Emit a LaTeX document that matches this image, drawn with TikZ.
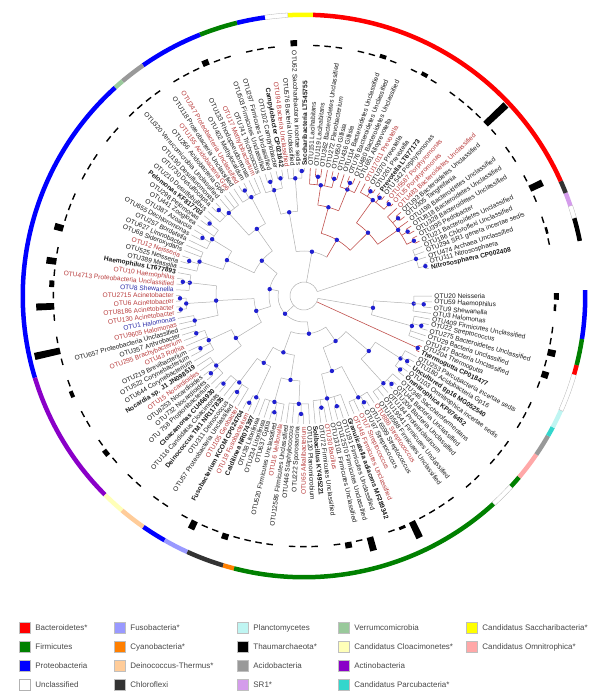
\documentclass[tikz,border=0pt]{standalone}
\usepackage{fontspec}
\setmainfont{Liberation Sans}
\usetikzlibrary{positioning}

\definecolor{cBac}{HTML}{FF0000}
\definecolor{cFir}{HTML}{008000}
\definecolor{cPro}{HTML}{0000FF}
\definecolor{cFus}{HTML}{9999FF}
\definecolor{cCya}{HTML}{FF7F00}
\definecolor{cDei}{HTML}{FFCC99}
\definecolor{cChl}{HTML}{333333}
\definecolor{cPla}{HTML}{BFF5F2}
\definecolor{cTha}{HTML}{000000}
\definecolor{cAci}{HTML}{999999}
\definecolor{cSR}{HTML}{D49CEB}
\definecolor{cVer}{HTML}{99C99B}
\definecolor{cClo}{HTML}{FFFFB8}
\definecolor{cAct}{HTML}{8A00C8}
\definecolor{cPar}{HTML}{33D6CC}
\definecolor{cSac}{HTML}{FFFF00}
\definecolor{cOmn}{HTML}{FFA8A8}
\definecolor{branchgray}{HTML}{B0B0B0}
\definecolor{branchred}{HTML}{C0504D}
\definecolor{dotblue}{HTML}{2020D0}
\definecolor{labelred}{HTML}{B83B3B}
\definecolor{labelblue}{HTML}{2B2BA8}
\definecolor{labelblack}{HTML}{1A1A1A}

\tikzset{
  gb/.style={draw=branchgray, line width=0.5pt},
  rb/.style={draw=branchred, line width=0.6pt},
  dot/.style={fill=dotblue},
  leaf/.style={font=\fontsize{6.6}{7}\selectfont, inner sep=0.3pt, text=labelblack},
  lk/.style={},
  lr/.style={text=labelred},
  lb/.style={text=labelblue},
  lx/.style={font=\fontsize{6.6}{7}\selectfont\bfseries},
  bar/.style={fill=black},
  sBac/.style={fill=cBac}, sFir/.style={fill=cFir}, sPro/.style={fill=cPro},
  sUnc/.style={fill=white, draw=gray!60, line width=0.3pt},
  sFus/.style={fill=cFus}, sCya/.style={fill=cCya}, sDei/.style={fill=cDei},
  sChl/.style={fill=cChl}, sPla/.style={fill=cPla}, sTha/.style={fill=cTha},
  sAci/.style={fill=cAci}, sSR/.style={fill=cSR}, sVer/.style={fill=cVer},
  sClo/.style={fill=cClo}, sAct/.style={fill=cAct}, sPar/.style={fill=cPar},
  sSac/.style={fill=cSac}, sOmn/.style={fill=cOmn},
  legbox/.style={draw=gray!50, minimum size=11pt, inner sep=0pt, line width=0.4pt},
  legtext/.style={font=\fontsize{8}{9}\selectfont, inner sep=1pt, text=labelblack!80}
}

\begin{document}
\begin{tikzpicture}[x=1pt, y=1pt, declare function={lf(\k)=-0.1-2.573*\k;}]
    \useasboundingbox (-304,-400) rectangle (296,296);
    % Outer ring (phyla)
    \foreach \s/\e/\st in {-8.8/1.2/sPro, 11.3/16.1/sTha, 16.1/18.7/sUnc, 18.7/21.5/sSR,
        21.5/24.1/sChl, 24.1/88.2/sBac, 88.2/93.3/sSac, 93.3/98/sUnc, 98/103.8/sPro,
        103.8/111.7/sFir, 111.7/124.9/sPro, 124.9/130.2/sAci, 130.2/132.2/sVer,
        132.2/196.9/sPro, 196.9/225/sAct, 225/229.7/sClo, 229.7/235.2/sDei,
        235.2/240.3/sPro, 240.3/245.5/sFus, 245.5/253.3/sChl, 253.3/255.6/sCya,
        255.6/312.4/sFir, 312.4/317.4/sUnc, 317.4/319.9/sFir, 319.9/325.7/sOmn,
        325.7/330.2/sAci, 330.2/332.2/sPar, 332.2/336/sPla, 336/343.8/sUnc,
        343.8/345.8/sBac, 345.8/351.2/sFir}
    {
        \path[\st] (\s:279) arc[start angle=\s, end angle=\e, radius=279]
            -- (\e:283.5) arc[start angle=\e, end angle=\s, radius=283.5] -- cycle;
    }
    % Leaves: tip, label, abundance bar
    \foreach \txt/\sty/\rb/\h [count=\i from 0] in {
        {OTU20 Neisseria}/lk/110/5, {OTU59 Haemophilus}/lk/120/2.5, {OTU9 Shewanella}/lk/120/0,
        {OTU3 Halomonas}/lk/110/1.4, {OTU409 Firmicutes Unclassified}/lk/112/1.4,
        {OTU22 Streptococcus}/lk/121/8, {OTU275 Bacteroidetes Unclassified}/lk/121/1.4,
        {OTU29 Bacteria Unclassified}/lk/112/7, {OTU147 Bacteria Unclassified}/lk/112/1.4,
        {OTU204 Thermogutta}/lk/125/0, {Thermogutta CP018477}/lx/125/1.4,
        {OTU253 Parcubacteria incertae sedis}/lk/115/1.4, {OTU180 Acidobacteria Gp16}/lk/122/1.4,
        {Uncultured gp16 MG052540}/lx/122/0, {OTU103 Omnitrophica incertae sedis}/lk/121/1.4,
        {Omnitrophica KP076452}/lx/121/1.4, {OTU346 Saccharofermentans}/lk/118/1.4,
        {OTU44 Bacteria Unclassified}/lk/124/0, {OTU206 Bacteria Unclassified}/lk/124/1.4,
        {OTU184 Proteiniclasticum}/lk/118/1.4, {OTU19541 Firmicutes Unclassified}/lk/118/0,
        {OTU16588 Firmicutes Unclassified}/lk/118/1.4, {OTU886 Streptococcus}/lr/115/1.4,
        {OTU16599 Streptococcus}/lk/122/1.4, {OTU97 Streptococcus}/lk/122/1.4,
        {OTU7 Streptococcus}/lr/115/18, {OTU48 Firmicutes Unclassified}/lr/115/3,
        {Granulicatella adiacens MF289342}/lx/105/1.4, {OTU191 Firmicutes Unclassified}/lk/115/0,
        {OTU12570 Firmicutes Unclassified}/lk/115/14, {OTU13101 Firmicutes Unclassified}/lk/105/1.4,
        {OTU30 Bacillus}/lr/113/6, {OTU72 Firmicutes Unclassified}/lk/113/1.4,
        {Solibacillus KY495221}/lx/105/0, {OTU120 Planomicrobium}/lk/108/1.4,
        {OTU65 Alkalibacterium}/lr/118/1.4, {OTU222 Sporosarcina}/lk/118/1.4,
        {OTU446 Staphylococcus}/lk/108/0, {OTU12586 Firmicutes Unclassified}/lk/108/1.4,
        {OTU16 Veillonella}/lr/110/1.4, {OTU520 Firmicutes Unclassified}/lk/120/1.4,
        {OTU637 GpIIa}/lk/120/1.4, {OTU234 Litorilinea}/lk/110/6, {OTU38 Litorilinea}/lk/110/1.4,
        {Caldilinea NR074397}/lx/112/1.4, {OTU19 Fusobacterium}/lr/120/9,
        {Fusobacterium KCOM CP024704}/lx/120/1.4, {OTU105 Geobacter}/lr/108/0,
        {OTU57 Proteobacteria Unclassified}/lk/117/1.4, {OTU311 Deinococcus}/lk/117/1.4,
        {Deinococcus TM1 NR117835}/lx/108/0, {OTU116 Candidatus Cloacimonas}/lk/119/1.4,
        {Cloacamonas CU466930}/lx/119/1.4, {OTU 758 Propionibacterium}/lk/112/0,
        {OTU732 Nocardioides}/lk/121/1.4, {OTU8253 Nocardioides}/lk/121/5,
        {OTU15 Nocardioides}/lr/112/1.4, {Nocardia sp. J1 JN098519}/lx/112/0,
        {OTU644 Corynebacterium}/lk/105/1.4, {OTU522 Corynebacterium}/lk/116/1.4,
        {OTU219 Brevibacterium}/lk/116/0, {OTU43 Rothia}/lr/105/4,
        {OTU295 Brachybacterium}/lr/114/1.4, {OTU357 Arthrobacter}/lk/114/0,
        {OTU657 Proteobacteria Unclassified}/lk/112/1.4, {OTU9605 Halomonas}/lr/112/26,
        {OTU1 Halomonas}/lb/112/1.4, {OTU130 Acinetobacter}/lr/124/0,
        {OTU8186 Acinetobacter}/lr/124/1.4, {OTU6 Acinetobacter}/lr/124/18,
        {OTU2715 Acinetobacter}/lr/124/1.4, {OTU8 Shewanella}/lb/115/5,
        {OTU4713 Proteobacteria Unclassified}/lr/122/1.4, {OTU10 Haemophilus}/lr/122/10,
        {Haemophilus LT677893}/lx/115/1.4, {OTU389 Massilia}/lk/110/0,
        {OTU525 Neisseria}/lk/120/9, {OTU12 Neisseria}/lr/120/1.4,
        {OTU68 Sideroxydans}/lk/110/1.4, {OTU627 Limnobacter}/lk/110/1.4,
        {OTU257 Bordetella}/lk/108/0, {OTU655 Dechloromonas}/lk/117/1.4,
        {OTU387 Azoarcus}/lk/117/1.4, {OTU441 Zoogloea}/lk/108/1.4,
        {OTU298 Pelomonas}/lk/119/0, {Pelomonas KF817703}/lx/119/1.4,
        {OTU210 Desulfobulbus}/lk/112/1.4, {OTU730 Desulfocapsa}/lk/121/0,
        {OTU190 Desulfuromonas}/lk/121/1.4, {OTU320 Verrucomicrobia Unclassified}/lk/112/1.4,
        {OTU266 Acidobacteria Gp6}/lk/112/1.4, {OTU155 Acidobacteria Gp6}/lr/112/1.4,
        {OTU118 Proteobacteria Unclassified}/lk/112/0, {OTU347 Proteobacteria Unclassified}/lr/121/1.4,
        {OTU402 Methylocaldum}/lk/121/1.4, {OTU133 Rhodopseudomonas}/lk/112/1.4,
        {OTU17 Methylobacterium}/lr/112/6, {OTU741 Trichococcus}/lk/110/1.4,
        {OTU503 Firmicutes Unclassified}/lk/119/1.4, {OTU297 Firmicutes Unclassified}/lk/119/0,
        {OTU102 Campylobacter}/lk/120/1.4, {Campylobacter CP021642}/lx/120/1.4,
        {OTU94 Bacteria Unclassified}/lr/118/1.4, {OTU576 Bacteria Unclassified}/lk/118/0,
        {OTU62 Saccharibacteria incertae sedis}/lk/125/6, {Saccharibacteria LT545755}/lx/125/0,
        {OTU151 Lacihabitans}/lk/112/1.4, {OTU119 Lacihabitans}/lk/120/1.4,
        {OTU362 Bacteroidetes Unclassified}/lk/120/1.4, {OTU272 Flavobacterium}/lk/112/0,
        {OTU650 Gillisia}/lk/121/1.4, {OTU436 Gillisia}/lk/121/1.4,
        {OTU114 Bacteroidetes Unclassified}/lk/115/4, {OTU76 Bacteroidetes Unclassified}/lk/122/1.4,
        {OTU480 Bacteroidetes Unclassified}/lk/122/0, {OTU651 Alloprevotella}/lk/115/1.4,
        {OTU17011 Prevotella}/lr/118/4, {OTU370 Prevotella}/lk/124/1.4,
        {OTU261 Prevotella}/lk/124/0, {Prevotella LT677173}/lx/124/1.4,
        {OTU 542 Porphyromonas}/lk/124/1.4, {OTU5587 Porphyromonas}/lr/125/1.4,
        {OTU5 Porphyromonas}/lr/125/1.4, {OTU483 Bacteroidetes Unclassified}/lr/115/28,
        {OTU93 Bacteroidetes Unclassified}/lk/122/1.4, {OTU305 Tangfeifania}/lk/122/0,
        {OTU198 Bacteroidetes Unclassified}/lk/115/1.4, {OTU818 Bacteroidetes Unclassified}/lk/122/1.4,
        {OTU328 Bacteroidetes Unclassified}/lk/122/0, {OTU395 Pedobacter}/lk/123/1.4,
        {OTU21 Bacteroidetes Unclassified}/lk/123/14, {OTU186 Chloroflexi Unclassified}/lk/118/1.4,
        {OTU294 SR1 genera incertae sedis}/lk/118/0, {OTU474 Archaea Unclassified}/lk/118/1.4,
        {OTU111 Nitrososphaera}/lk/125/2.5, {Nitrososphaera CP002408}/lx/125/1.4}
    {
        \pgfmathsetmacro\ang{lf(\i)}
        \pgfmathsetmacro\an{mod(\ang+720,360)}
        \pgfmathtruncatemacro\lft{(\an>90)&&(\an<270)}
        \pgfmathtruncatemacro\isr{((\i>105)&&(\i<131))||(\i==9)||(\i==10)}
        \ifnum\isr=1 \def\tc{rb}\else\def\tc{gb}\fi
        \draw[\tc] (\ang:\rb) -- (\ang:128);
        \ifnum\lft=1
            \pgfmathsetmacro\rot{\an-180}
            \node[leaf, \sty, anchor=east, rotate=\rot] (l\i) at (\ang:130) {\txt};
        \else
            \node[leaf, \sty, anchor=west, rotate=\an] (l\i) at (\ang:130) {\txt};
        \fi
        \ifdim\h pt>0pt
            \pgfmathsetmacro\bo{250+\h}
            \fill[bar] ({\ang-0.75}:250) arc[start angle=\ang-0.75, end angle=\ang+0.75, radius=250]
                -- ({\ang+0.75}:\bo) arc[start angle=\ang+0.75, end angle=\ang-0.75, radius=\bo] -- cycle;
        \fi
    }
    % Clades: arc, stem, node dot
    \foreach \s/\e/\r/\p/\st in {
        % terminal groups
        0/3/110/70/gb, 4/8/112/70/gb, 9/10/125/14/rb, 11/14.5/115/85/gb, 16/21/118/85/gb,
        22/26/115/80/gb, 27/33/105/80/gb, 34/38/108/85/gb, 39/43/110/85/gb, 44/45.5/112/78/gb,
        47/51.5/108/78/gb, 53/57/112/80/gb, 58/62.5/105/80/gb, 64/66/112/88/gb, 67.5/69.5/118/88/gb,
        71/74/115/88/gb, 75/79/110/85/gb, 80/84.5/108/85/gb, 86/91/112/82/gb, 92/96/112/82/gb,
        97/100.5/110/85/gb, 102/104.5/118/85/gb, 106/110.5/112/92/rb, 112/115/115/92/rb,
        116/121.5/118/90/rb, 123/129.5/115/90/rb, 131/134.5/118/14/gb,
        % pairs
        1/2/120/110/gb, 5/6/121/112/gb, 12/13/122/115/gb, 14/15/121/115/gb, 17/18/124/118/gb,
        23/24/122/115/gb, 28/29/115/105/gb, 31/32/113/105/gb, 35/36/118/108/gb, 40/41/120/110/gb,
        45/46/120/112/gb, 48/49/117/108/gb, 51/52/119/108/gb, 54/55/121/112/gb, 59/60/116/105/gb,
        62/63/114/105/gb, 67/68/124/118/gb, 69/70/124/118/gb, 72/73/122/115/gb, 76/77/120/110/gb,
        81/82/117/108/gb, 84/85/119/108/gb, 87/88/121/112/gb, 93/94/121/112/gb, 98/99/119/110/gb,
        100/101/120/110/gb, 104/105/125/118/gb, 107/108/120/112/rb, 110/111/121/112/rb,
        113/114/122/115/rb, 117/118/124/118/rb, 119/120/124/118/rb, 121/122/125/118/rb,
        124/125/122/115/rb, 127/128/122/115/rb, 129/130/123/115/rb, 134/135/125/118/gb,
        % deeper clades
        1.5/6/70/14/gb, 12.75/18.5/85/55/gb, 24/30/80/55/gb, 36/41/85/60/gb, 44.75/49.25/78/60/gb,
        55/60.25/80/50/gb, 65/72.5/88/50/gb, 77/82.25/85/55/gb, 88.5/94/82/55/gb,
        98.75/103.25/85/45/gb, 108.25/113.5/92/65/rb, 118.75/126.25/90/65/rb,
        15.625/27/55/38/gb, 38.5/47/60/38/gb, 57.625/68.75/50/35/gb, 79.625/91.25/55/35/gb,
        110.875/122.5/65/45/rb, 101/116.6875/45/14/gb, 21.3125/42.75/38/26/gb,
        63.1875/85.4375/35/26/gb, 32.03/74.3125/26/14/gb}
    {
        \pgfmathsetmacro\as{lf(\s)}
        \pgfmathsetmacro\ae{lf(\e)}
        \pgfmathsetmacro\am{lf((\s+\e)/2)}
        \draw[\st] (\as:\r) arc[start angle=\as, end angle=\ae, radius=\r];
        \draw[\st] (\am:\p) -- (\am:\r);
        \fill[dot] (\am:\r) circle (2.2);
    }
    % Root
    \draw[gb] ({lf(3.75)}:14) arc[start angle={lf(3.75)}, end angle={lf(132.75)}, radius=14];
    % Legend
    \foreach \cx/\cy/\st/\txt [count=\n] in {
        -279.5/-332/sBac/{Bacteroidetes*}, -279.5/-351/sFir/{Firmicutes},
        -279.5/-370/sPro/{Proteobacteria}, -279.5/-389/sUnc/{Unclassified},
        -184.5/-332/sFus/{Fusobacteria*}, -184.5/-351/sCya/{Cyanobacteria*},
        -184.5/-370/sDei/{Deinococcus-Thermus*}, -184.5/-389/sChl/{Chloroflexi},
        -61.5/-332/sPla/{Planctomycetes}, -61.5/-351/sTha/{Thaumarchaeota*},
        -61.5/-370/sAci/{Acidobacteria}, -61.5/-389/sSR/{SR1*},
        39.5/-332/sVer/{Verrumcomicrobia}, 39.5/-351/sClo/{Candidatus Cloacimonetes*},
        39.5/-370/sAct/{Actinobacteria}, 39.5/-389/sPar/{Candidatus Parcubacteria*},
        167.5/-332/sSac/{Candidatus Saccharibacteria*}, 167.5/-351/sOmn/{Candidatus Omnitrophica*}}
    {
        \node[legbox, \st] (sq\n) at (\cx,\cy) {};
        \node[legtext, right=4pt of sq\n] (lt\n) {\txt};
    }
\end{tikzpicture}
\end{document}
